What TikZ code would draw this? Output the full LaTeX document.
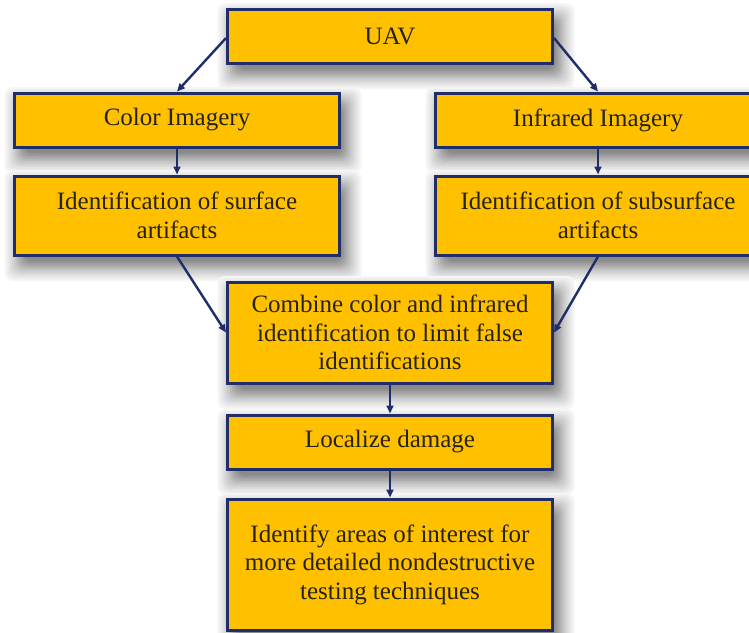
\documentclass[tikz,border=0pt]{standalone}
\usepackage{fontspec}
\setmainfont{Liberation Serif}
\usetikzlibrary{arrows.meta}
\definecolor{boxfill}{HTML}{FFC000}
\definecolor{boxline}{HTML}{1F2D6B}
\definecolor{boxtext}{HTML}{262210}
% soft drop shadow under a box given by centre (#1,#2), width #3, height #4
\newcommand\boxshade[4]{%
  \foreach \rr/\gg in {16/4,14/7,12/10,10/14,8/18,6/22,4/27,2/32,0/37,-2/42,-4/46}{%
    \fill[black!\gg, rounded corners=8pt]
      (#1-#3/2+6-\rr, #2-#4/2+10-\rr) rectangle (#1+#3/2+6+\rr, #2+#4/2+10+\rr);
  }%
}
\begin{document}
\begin{tikzpicture}[x=1pt,y=-1pt,
  flowbox/.style={draw=boxline, line width=3pt, fill=boxfill, text=boxtext,
    align=center, inner sep=0pt, minimum width=325pt,
    font=\fontsize{25}{28.5}\selectfont},
  link/.style={draw=boxline, line width=2.4pt,
    -{Triangle[length=8pt,width=7pt]}}]
\useasboundingbox (0,0) rectangle (749,632);

% shadows first, boxes on top
\boxshade{390}{36}{325}{54}
\boxshade{177}{120}{325}{54}
\boxshade{598}{120}{325}{54}
\boxshade{177}{215.5}{325}{79}
\boxshade{598}{215.5}{325}{79}
\boxshade{390}{332.5}{325}{101}
\boxshade{390}{442}{325}{54}
\boxshade{390}{564.5}{325}{131}

\node[flowbox, minimum height=54pt] (uav)    at (390,36)  {UAV};
\node[flowbox, minimum height=54pt] (color)  at (177,120) {Color Imagery};
\node[flowbox, minimum height=54pt] (infra)  at (598,120) {Infrared Imagery};
\node[flowbox, minimum height=79pt] (surf)   at (177,215.5) {Identification of surface\\artifacts};
\node[flowbox, minimum height=79pt] (subsurf) at (598,215.5) {Identification of subsurface\\artifacts};
\node[flowbox, minimum height=101pt] (comb)  at (390,332.5) {Combine color and infrared\\identification to limit false\\identifications};
\node[flowbox, minimum height=54pt] (local)  at (390,442) {Localize damage};
\node[flowbox, minimum height=131pt] (areas) at (390,564.5) {Identify areas of interest for\\more detailed nondestructive\\testing techniques};

\draw[link] ([yshift=-2pt]uav.west) -- (color.north);
\draw[link] ([yshift=-2pt]uav.east) -- (infra.north);
\draw[link] (color) -- (surf);
\draw[link] (infra) -- (subsurf);
\draw[link] (surf.south) -- (comb.west);
\draw[link] (subsurf.south) -- (comb.east);
\draw[link] (comb) -- (local);
\draw[link] (local) -- (areas);
\end{tikzpicture}
\end{document}
